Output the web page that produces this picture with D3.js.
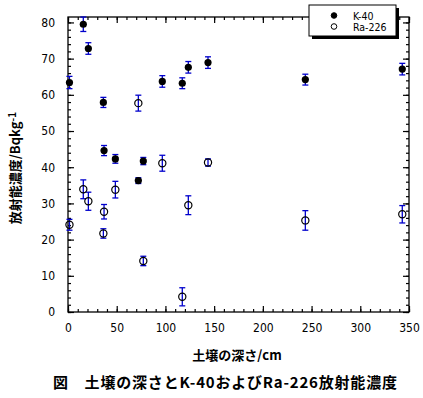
<!DOCTYPE html>
<html>
<head>
<meta charset="utf-8">
<script src="https://cdn.jsdelivr.net/npm/d3@7"></script>
<style>
  body { margin: 0; background: #fff; }
  .tick text, .lgtext { font-family: "Liberation Sans Narrow", "DejaVu Sans Condensed", "DejaVu Sans", sans-serif; font-stretch: condensed; font-size: 12px; fill: #000; }
  .lgtext { font-size: 10.5px; }
  .domain { display: none; }
  .jp { font-family: "Noto Sans CJK JP", sans-serif; font-weight: bold; fill: #000; }
</style>
</head>
<body>
<div id="chart"></div>
<script>
// depth of each soil sample (cm)
var depths = [1.5, 15.7, 20.9, 36.3, 37.0, 48.6, 72.2, 77.3, 96.8, 117.3, 123.5, 143.7, 243.6, 343.1];
// K-40 activity (Bq/kg) and its error
var k40 = [63.4, 79.5, 72.8, 57.9, 44.6, 42.3, 36.3, 41.7, 63.7, 63.2, 67.6, 68.9, 64.2, 67.1];
var k40Err = [1.7, 2.0, 1.6, 1.4, 1.4, 1.2, 0.8, 1.0, 1.6, 1.5, 1.6, 1.6, 1.5, 1.6];
// Ra-226 activity (Bq/kg) and its error
var ra226 = [24.1, 33.9, 30.6, 21.7, 27.7, 33.8, 57.7, 14.1, 41.1, 4.2, 29.5, 41.3, 25.3, 27.0];
var ra226Err = [1.5, 2.6, 2.5, 1.3, 2.0, 2.3, 2.2, 1.3, 2.2, 2.5, 2.6, 1.0, 2.7, 2.4];

var xTicks = [0, 50, 100, 150, 200, 250, 300, 350];
var yTicks = [0, 10, 20, 30, 40, 50, 60, 70, 80];
var seriesNames = ["K-40", "Ra-226"];

var W = 423, H = 398;
var pLeft = 68, pRight = 409, pTop = 17, pBottom = 312;

var svg = d3.select("#chart").append("svg")
    .attr("width", W)
    .attr("height", H);

svg.append("rect").attr("width", W).attr("height", H).attr("fill", "#fff");

var x = d3.scaleLinear().domain([0, 350]).range([pLeft, pRight]);
var y = d3.scaleLinear().domain([0, 81.5]).range([pBottom, pTop]);

// frame
svg.append("rect")
    .attr("x", pLeft).attr("y", pTop)
    .attr("width", pRight - pLeft).attr("height", pBottom - pTop)
    .attr("fill", "none").attr("stroke", "#000").attr("stroke-width", 1.3);

var minorX = d3.range(0, 351, 10);
var minorY = d3.range(0, 81, 2);

// bottom axis, ticks inward
svg.append("g")
    .attr("transform", "translate(0," + pBottom + ")")
    .call(d3.axisBottom(x).tickValues(xTicks).tickSizeInner(-6).tickSizeOuter(0).tickPadding(11).tickFormat(d3.format("d")));
svg.append("g")
    .attr("transform", "translate(0," + pBottom + ")")
    .call(d3.axisBottom(x).tickValues(minorX).tickSizeInner(-3).tickSizeOuter(0).tickFormat(""));
// top axis
svg.append("g")
    .attr("transform", "translate(0," + pTop + ")")
    .call(d3.axisTop(x).tickValues(xTicks).tickSizeInner(-6).tickSizeOuter(0).tickFormat(""));
svg.append("g")
    .attr("transform", "translate(0," + pTop + ")")
    .call(d3.axisTop(x).tickValues(minorX).tickSizeInner(-3).tickSizeOuter(0).tickFormat(""));
// left axis
svg.append("g")
    .attr("transform", "translate(" + pLeft + ",0)")
    .call(d3.axisLeft(y).tickValues(yTicks).tickSizeInner(-6).tickSizeOuter(0).tickPadding(13).tickFormat(d3.format("d")));
svg.append("g")
    .attr("transform", "translate(" + pLeft + ",0)")
    .call(d3.axisLeft(y).tickValues(minorY).tickSizeInner(-3).tickSizeOuter(0).tickFormat(""));
// right axis
svg.append("g")
    .attr("transform", "translate(" + pRight + ",0)")
    .call(d3.axisRight(y).tickValues(yTicks).tickSizeInner(-6).tickSizeOuter(0).tickFormat(""));
svg.append("g")
    .attr("transform", "translate(" + pRight + ",0)")
    .call(d3.axisRight(y).tickValues(minorY).tickSizeInner(-3).tickSizeOuter(0).tickFormat(""));

svg.selectAll(".tick line").attr("stroke", "#000").attr("stroke-width", 1.2);

// error bars
function errorBars(vals, errs) {
    var g = svg.append("g").attr("stroke", "#0000cc").attr("stroke-width", 1.3);
    depths.forEach(function(d, i) {
        var cx = x(d), y0 = y(vals[i] - errs[i]), y1 = y(vals[i] + errs[i]);
        g.append("line").attr("x1", cx).attr("x2", cx).attr("y1", y0).attr("y2", y1);
        g.append("line").attr("x1", cx - 3).attr("x2", cx + 3).attr("y1", y0).attr("y2", y0);
        g.append("line").attr("x1", cx - 3).attr("x2", cx + 3).attr("y1", y1).attr("y2", y1);
    });
}
errorBars(k40, k40Err);
errorBars(ra226, ra226Err);

// K-40 markers
svg.append("g").selectAll("circle")
    .data(depths)
    .enter().append("circle")
    .attr("cx", function(d) { return x(d); })
    .attr("cy", function(d, i) { return y(k40[i]); })
    .attr("r", 3.6)
    .attr("fill", "#000");

// Ra-226 markers
svg.append("g").selectAll("circle")
    .data(depths)
    .enter().append("circle")
    .attr("cx", function(d) { return x(d); })
    .attr("cy", function(d, i) { return y(ra226[i]); })
    .attr("r", 3.6)
    .attr("fill", "none")
    .attr("stroke", "#000")
    .attr("stroke-width", 1.2);

// legend with drop shadow
var lg = svg.append("g");
lg.append("rect").attr("x", 312).attr("y", 8).attr("width", 87).attr("height", 31).attr("fill", "#000");
lg.append("rect").attr("x", 309).attr("y", 5).attr("width", 87).attr("height", 31)
    .attr("fill", "#fff").attr("stroke", "#000").attr("stroke-width", 1);
seriesNames.forEach(function(name, i) {
    var cy = 15.5 + i * 11;
    lg.append("circle")
        .attr("cx", 334).attr("cy", cy).attr("r", 2.8)
        .attr("fill", i === 0 ? "#000" : "#fff")
        .attr("stroke", "#000").attr("stroke-width", 1);
    lg.append("text")
        .attr("class", "lgtext")
        .attr("x", 353).attr("y", cy + 4)
        .text(name);
});

// y axis title
var yt = svg.append("text")
    .attr("class", "jp")
    .attr("transform", "translate(20,168) rotate(-90)")
    .attr("text-anchor", "middle")
    .style("font-size", "13px");
yt.append("tspan").text("放射能濃度/Bqkg");
yt.append("tspan").attr("dy", "-0.4em").style("font-size", "10px").text("-1");

// x axis title
svg.append("text")
    .attr("class", "jp")
    .attr("x", 237).attr("y", 360)
    .attr("text-anchor", "middle")
    .style("font-size", "13px")
    .text("土壌の深さ/cm");

// caption
svg.append("text")
    .attr("class", "jp")
    .attr("x", 53).attr("y", 388)
    .attr("textLength", 344)
    .attr("lengthAdjust", "spacing")
    .style("font-size", "15px")
    .text("図　土壌の深さとK-40およびRa-226放射能濃度");
</script>
</body>
</html>
